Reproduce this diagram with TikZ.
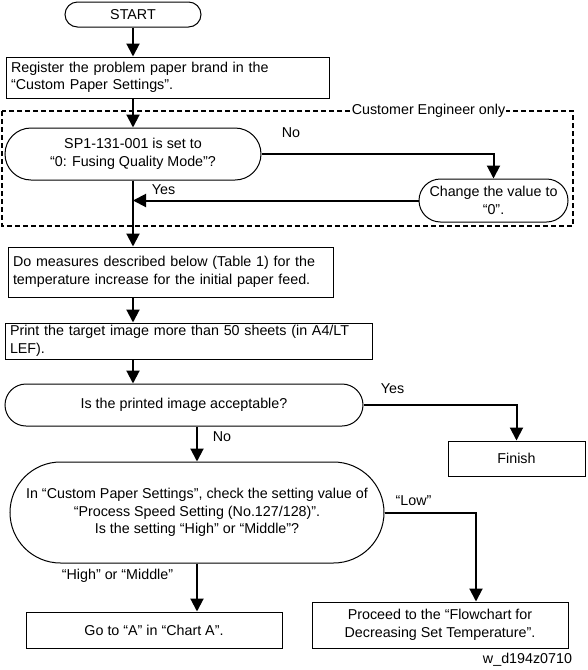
\documentclass[tikz,border=0pt]{standalone}
\usepackage{fontspec}
\setmainfont{Liberation Sans}
\usepackage{tikz}
\usetikzlibrary{arrows.meta}

\begin{document}
\begin{tikzpicture}[x=1pt,y=-1pt,
    font=\fontsize{14.3}{17.5}\selectfont,
    box/.style={draw, line width=1pt, inner xsep=5pt, inner ysep=1pt, align=left},
    pill/.style={draw, line width=1pt, rounded corners=#1, inner sep=0pt, align=center},
    flow/.style={line width=2pt, -{Triangle[width=13pt,length=13pt]}},
    lbl/.style={inner sep=0pt}]
                    % 画布大小
                    \useasboundingbox (0,0) rectangle (587,670);
                    \coordinate (spine) at (133,0);

                    % 放置流程节点
                    \node[pill=12.5pt, minimum width=136pt, minimum height=25pt] (start) at (133,14.5) {START};
                    \node[box, text width=313pt, minimum height=41pt] (reg) at (167.5,77.5)
                        {Register the problem paper brand in the\\“Custom Paper Settings”.};
                    \node[pill=26pt, minimum width=256pt, minimum height=52pt] (dec1) at (133,154)
                        {SP1-131-001 is set to\\“0: Fusing Quality Mode”?};
                    \node[pill=21.5pt, minimum width=149pt, minimum height=43pt] (change) at (493.5,200.5)
                        {Change the value to\\“0”.};
                    \node[box, text width=315pt, minimum height=50pt] (meas) at (170.5,272)
                        {Do measures described below (Table 1) for the\\temperature increase for the initial paper feed.};
                    \node[box, text width=357pt, minimum height=36pt] (print) at (188.5,341)
                        {Print the target image more than 50 sheets (in A4/LT\\LEF).};
                    \node[pill=21pt, minimum width=358pt, minimum height=42pt] (dec2) at (184,405)
                        {Is the printed image acceptable?};
                    \node[box, align=center, minimum width=137pt, minimum height=35pt] (finish) at (516.5,458.5) {Finish};
                    \node[pill=50.5pt, minimum width=374pt, minimum height=101pt] (dec3) at (197,512.5)
                        {In “Custom Paper Settings”, check the setting value of\\“Process Speed Setting (No.127/128)”.\\Is the setting “High” or “Middle”?};
                    \node[box, align=center, minimum width=256pt, minimum height=36pt] (go) at (154,630) {Go to “A” in “Chart A”.};
                    \node[box, align=center, minimum width=256pt, minimum height=46pt] (proceed) at (440,625)
                        {Proceed to the “Flowchart for\\Decreasing Set Temperature”.};

                    % 虚线框及其标题
                    \draw[line width=1.2pt, dash pattern=on 5pt off 3pt] (2,111) rectangle (573,226);
                    \node[fill=white, inner xsep=1pt, inner ysep=0pt] (ceonly) at (428.5,111) {Customer Engineer only};

                    % 连线
                    \draw[flow] (start.south) -- (reg.north -| start.south);
                    \draw[flow] (reg.south -| spine) -- (dec1.north);
                    \draw[flow] (dec1.east) -| (change.north);
                    \draw[flow] (change.west) -- (change.west -| spine);
                    \draw[flow] (dec1.south) -- (meas.north -| spine);
                    \draw[flow] (meas.south -| spine) -- (print.north -| spine);
                    \draw[flow] (print.south -| spine) -- (dec2.north -| spine);
                    \draw[flow] (dec2.east) -| (finish.north);
                    \draw[flow] (dec2.south -| dec3.north) -- (dec3.north);
                    \draw[flow] (dec3.east) -| ([xshift=36pt]proceed.north);
                    \draw[flow] (dec3.south) -- (go.north -| dec3.south);

                    % 分支标注
                    \node[lbl] (no1) at (291,133) {No};
                    \node[lbl] (yes1) at (163.5,190) {Yes};
                    \node[lbl] (yes2) at (392.5,389) {Yes};
                    \node[lbl] (no2) at (222,437) {No};
                    \node[lbl] (low) at (413.5,501) {“Low”};
                    \node[lbl] (himid) at (117.5,576) {“High” or “Middle”};
                    \node[lbl] (tag) at (527.5,660) {w\_d194z0710};
                \end{tikzpicture}
\end{document}
